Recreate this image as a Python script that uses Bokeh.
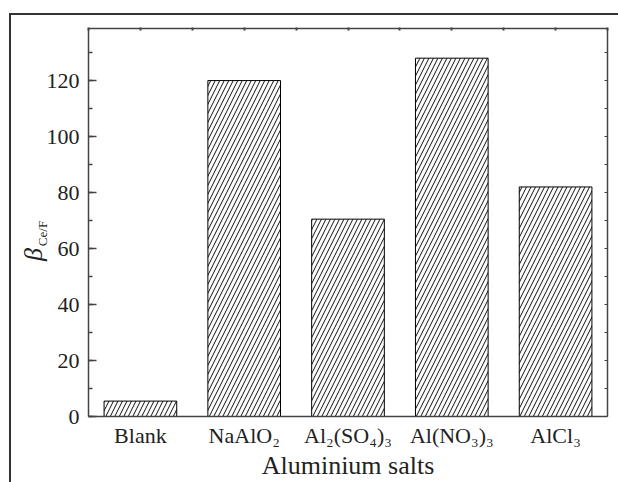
import math
from bokeh.plotting import figure
from bokeh.models import (Range1d, LinearAxis, FixedTicker, SingleIntervalTicker,
                          Label, ColumnDataSource, CustomJSTickFormatter)
from bokeh.embed import file_html
from bokeh.resources import INLINE

# ---- data ----
categories = ["Blank", "NaAlO₂", "Al₂(SO₄)₃", "Al(NO₃)₃", "AlCl₃"]
beta_values = [5.5, 120.0, 70.5, 128.0, 82.0]
y_tick_interval = 20
x_label = "Aluminium salts"
y_label_main = "β"
y_label_sub = "Ce/F"

x_pos = [i + 0.5 for i in range(len(categories))]
src = ColumnDataSource(dict(x=x_pos, top=beta_values, name=categories))

FONT = "Liberation Serif"
AX = "#444444"
TXT = "#222222"

# canvas origin sits at window (-6, 12)
p = figure(width=624, height=470, output_backend="svg", toolbar_location=None,
           x_range=Range1d(0, len(categories)), y_range=Range1d(0, 138.6),
           min_border_left=94, min_border_right=11, min_border_top=16, min_border_bottom=66)
p.margin = (12, 0, 0, -6)
# outer frame: left and top edges of the figure box
p.styles = {"box-shadow": "inset 15px 1px 0 0 #ffffff, inset 17px 3px 0 0 #333333"}
p.grid.visible = False
p.outline_line_color = None
p.background_fill_color = "white"
p.border_fill_color = None

p.vbar(x="x", top="top", width=0.7, source=src, fill_color="white",
       line_color="black", line_width=1, hatch_pattern="/", hatch_color="#111111",
       hatch_scale=9, hatch_weight=1)

# bottom axis
xa = p.xaxis[0]
xa.ticker = FixedTicker(ticks=x_pos)
xa.major_label_overrides = {x: c for x, c in zip(x_pos, categories)}
xa.major_tick_in = 0
xa.major_tick_out = 0
xa.minor_tick_line_color = None
xa.axis_line_color = AX
xa.axis_line_width = 1.5
xa.major_label_text_font = FONT
xa.major_label_text_font_size = "22px"
xa.major_label_text_color = TXT
xa.major_label_standoff = 6
xa.axis_label = x_label
xa.axis_label_text_font = FONT
xa.axis_label_text_font_style = "normal"
xa.axis_label_text_font_size = "26px"
xa.axis_label_text_color = TXT
xa.axis_label_standoff = 0

# left axis
ya = p.yaxis[0]
ya.ticker = SingleIntervalTicker(interval=y_tick_interval, num_minor_ticks=2)
ya.major_tick_in = 8
ya.major_tick_out = 0
ya.minor_tick_in = 4
ya.minor_tick_out = 0
ya.major_tick_line_color = AX
ya.minor_tick_line_color = AX
ya.major_tick_line_width = 1.5
ya.minor_tick_line_width = 1.5
ya.axis_line_color = AX
ya.axis_line_width = 1.5
ya.major_label_text_font = FONT
ya.major_label_text_font_size = "22px"
ya.major_label_text_color = TXT
ya.major_label_standoff = 9

blank = CustomJSTickFormatter(code="return ''")

# right axis
ra = LinearAxis(ticker=SingleIntervalTicker(interval=10, num_minor_ticks=0), formatter=blank)
ra.major_tick_in = 3
ra.major_tick_out = 0
ra.minor_tick_line_color = None
ra.axis_line_color = AX
ra.axis_line_width = 1.5
ra.major_tick_line_color = AX
ra.major_label_standoff = 0
p.add_layout(ra, "right")

# top axis
ta = LinearAxis(ticker=FixedTicker(ticks=[i * 0.5 for i in range(2 * len(categories) + 1)]),
                formatter=blank)
ta.major_tick_in = 2
ta.major_tick_out = 1
ta.minor_tick_line_color = None
ta.axis_line_color = AX
ta.axis_line_width = 1.5
ta.major_tick_line_color = AX
ta.major_tick_line_width = 2
ta.major_label_standoff = 0
p.add_layout(ta, "above")


def make_label(x, y, text, size, style):
    kw = dict(text=text, angle=math.pi / 2, text_align="center", text_baseline="middle",
              text_font=FONT, text_font_style=style, text_font_size=size, text_color=TXT)
    try:
        return Label(x=x, y=y, x_units="canvas", y_units="canvas", **kw)
    except Exception:
        return Label(x=x, y=y, x_units="screen", y_units="screen", **kw)


# y-axis label: beta with subscript (canvas coords)
p.add_layout(make_label(39, 242, y_label_main, "26px", "italic"), "left")
p.add_layout(make_label(48, 221, y_label_sub, "13px", "normal"), "left")

open("out.html", "w").write(file_html(p, INLINE))
